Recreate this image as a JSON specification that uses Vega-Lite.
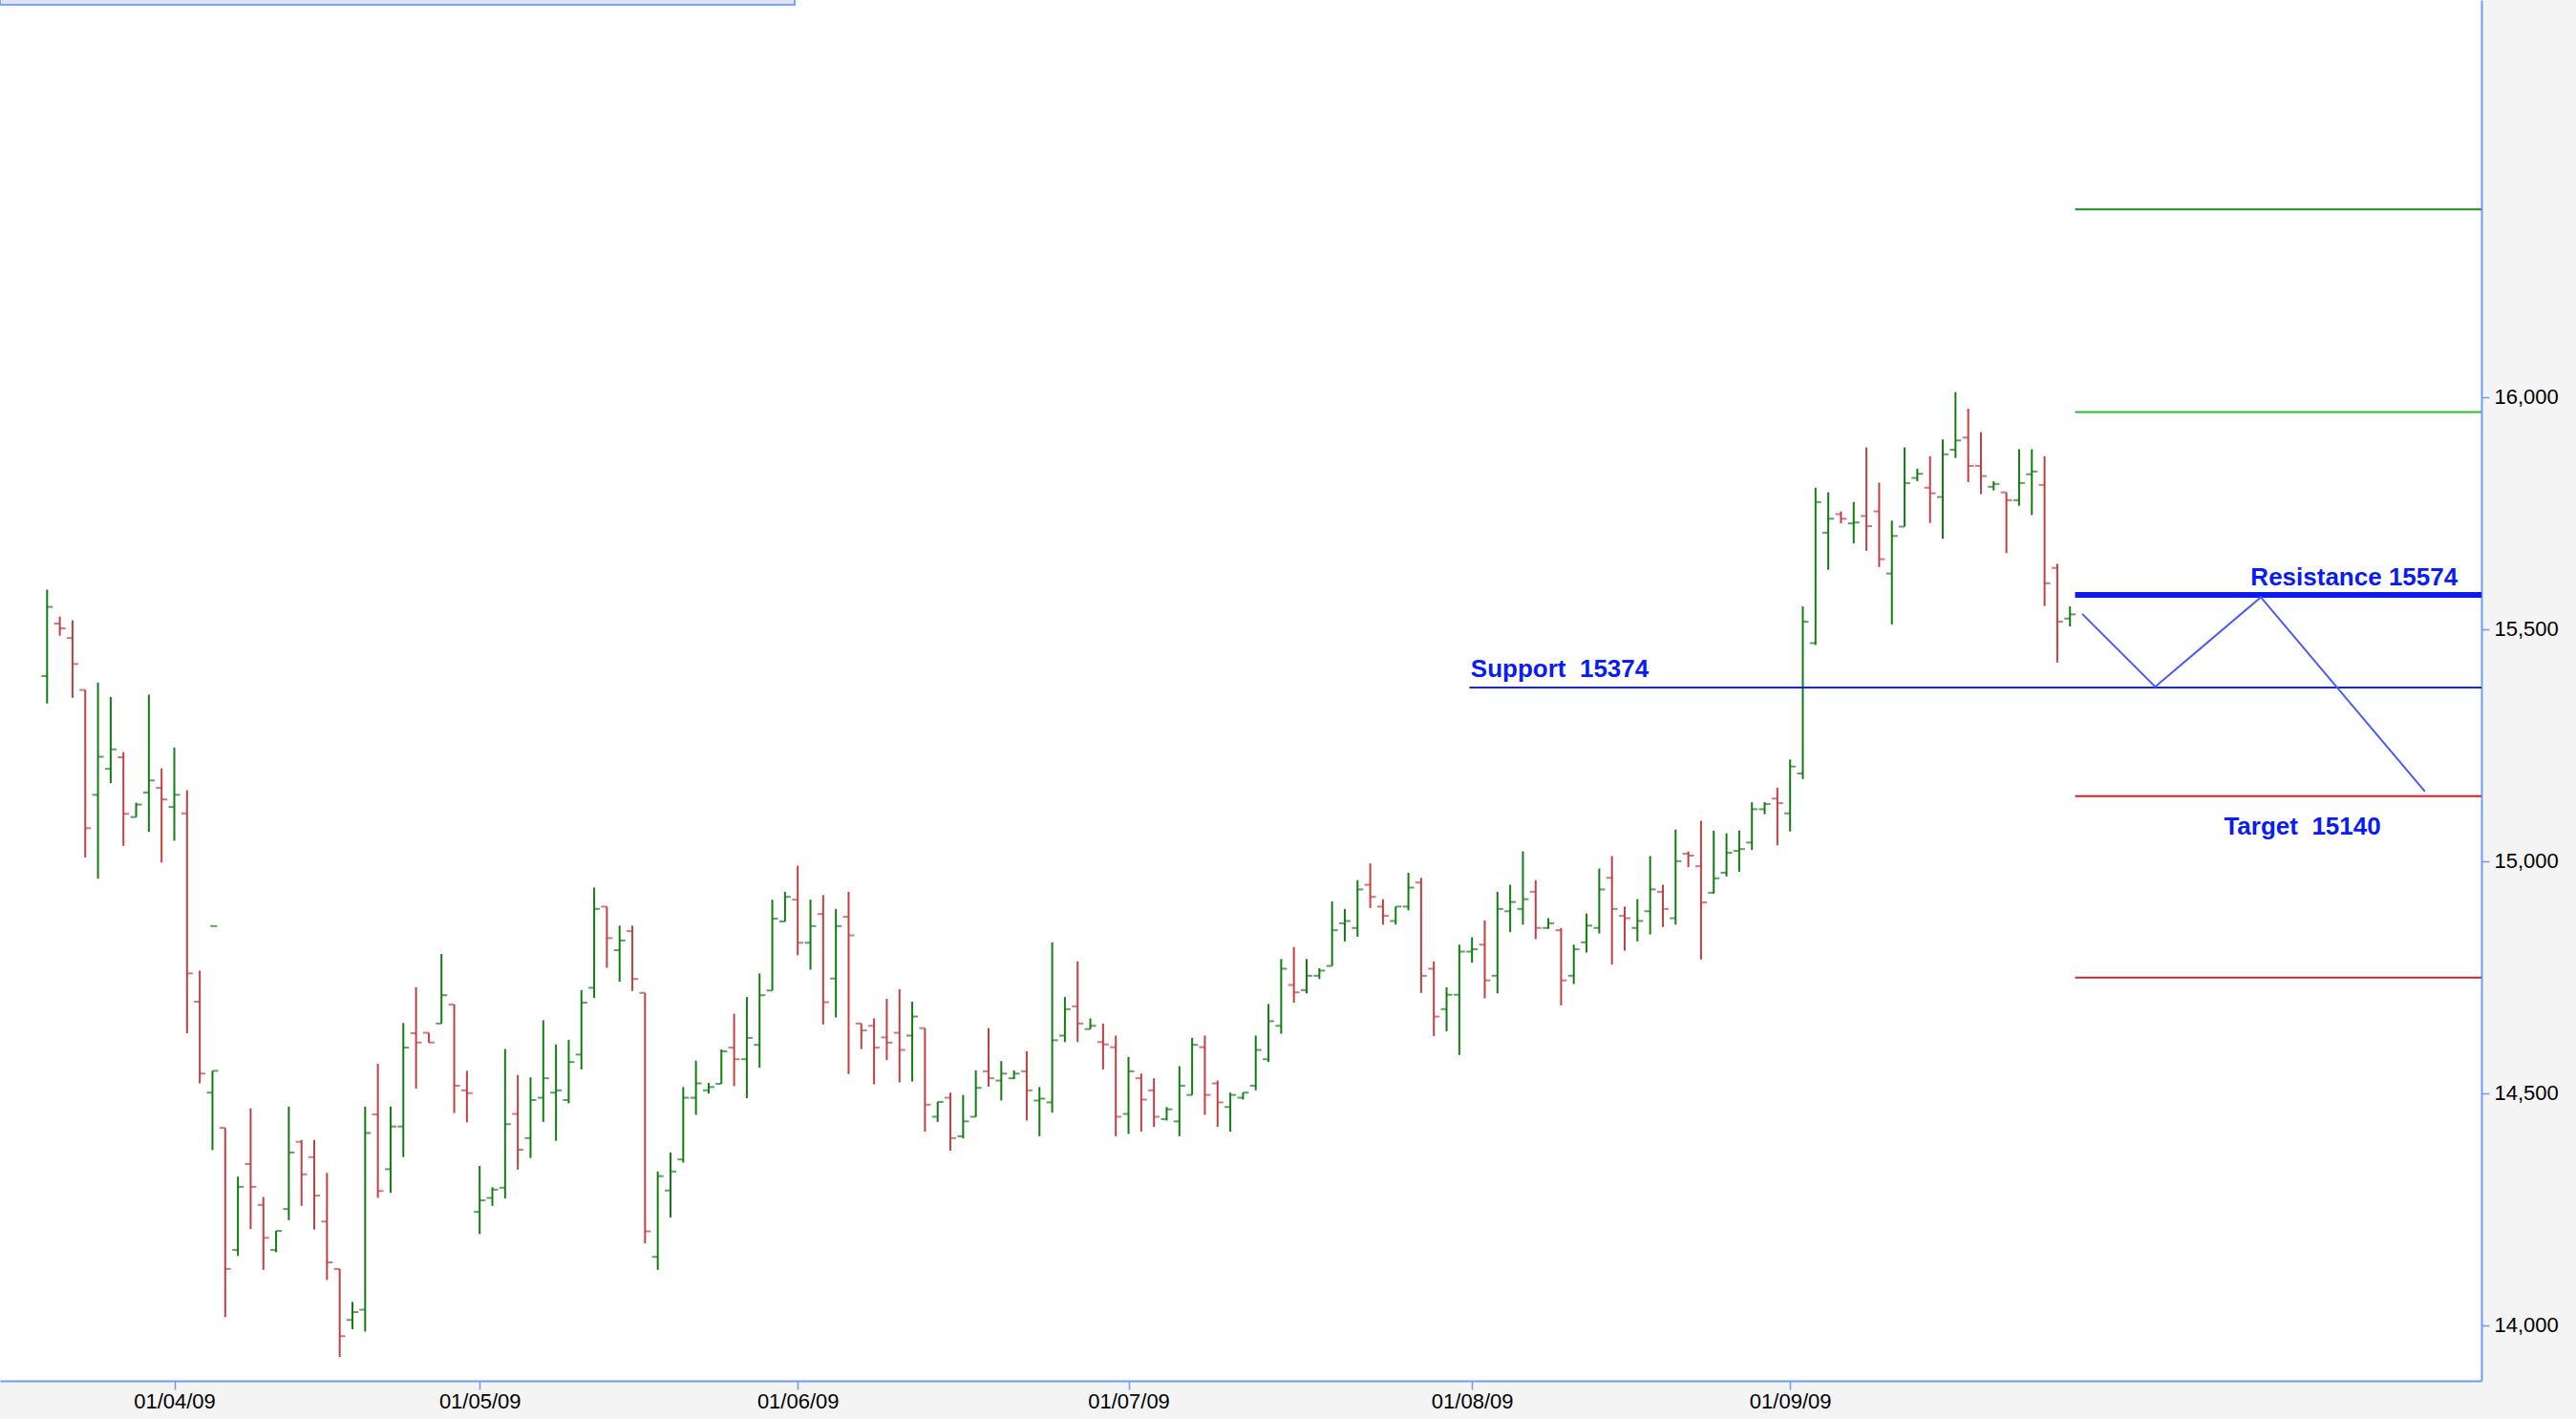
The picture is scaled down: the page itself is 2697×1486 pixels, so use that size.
{
  "$schema": "https://vega.github.io/schema/vega-lite/v6.json",
  "width": 2598,
  "height": 1446,
  "autosize": {"type": "none"},
  "padding": {"left": 0, "top": 0, "right": 99, "bottom": 40},
  "background": "#f4f4f4",
  "config": {
    "view": {"fill": "white", "stroke": null},
    "axis": {"grid": false, "labelFont": "Liberation Sans", "labelFontSize": 22, "labelColor": "#000000", "tickColor": "#6d9cf0", "domainColor": "#6d9cf0", "domainWidth": 2, "tickWidth": 1.5}
  },
  "datasets": {
    "bars": [
      {"i":0,"o":15399,"h":15585,"l":15340,"c":15548},{"i":1,"o":15512,"h":15527,"l":15486,"c":15502},{"i":2,"o":15481,"h":15519,"l":15352,"c":15425},{"i":3,"o":15369,"h":15369,"l":15008,"c":15071},{"i":4,"o":15143,"h":15385,"l":14962,"c":15225},{"i":5,"o":15199,"h":15354,"l":15168,"c":15241},{"i":6,"o":15224,"h":15235,"l":15033,"c":15102},{"i":7,"o":15095,"h":15126,"l":15095,"c":15122},{"i":8,"o":15148,"h":15359,"l":15063,"c":15174},{"i":9,"o":15158,"h":15200,"l":14997,"c":15133},
      {"i":10,"o":15117,"h":15245,"l":15044,"c":15143},{"i":11,"o":15103,"h":15153,"l":14629,"c":14758},{"i":12,"o":14697,"h":14764,"l":14521,"c":14542},{"i":13,"o":14501,"h":14548,"l":14377,"c":14548},{"i":14,"o":14425,"h":14425,"l":14017,"c":14121},{"i":15,"o":14162,"h":14320,"l":14149,"c":14298},{"i":16,"o":14347,"h":14467,"l":14207,"c":14298},{"i":17,"o":14259,"h":14276,"l":14119,"c":14188},{"i":18,"o":14162,"h":14203,"l":14157,"c":14203},{"i":19,"o":14250,"h":14471,"l":14226,"c":14372},
      {"i":20,"o":14395,"h":14399,"l":14257,"c":14325},{"i":21,"o":14362,"h":14399,"l":14206,"c":14279},{"i":22,"o":14223,"h":14328,"l":14097,"c":14135},{"i":23,"o":14121,"h":14121,"l":13931,"c":13976},{"i":24,"o":14011,"h":14050,"l":13991,"c":14028},{"i":25,"o":14033,"h":14471,"l":13986,"c":14414},{"i":26,"o":14454,"h":14563,"l":14274,"c":14289},{"i":27,"o":14336,"h":14471,"l":14285,"c":14428},{"i":28,"o":14428,"h":14651,"l":14362,"c":14598},{"i":29,"o":14629,"h":14728,"l":14510,"c":14609},
      {"i":30,"o":14630,"h":14630,"l":14609,"c":14609},{"i":31,"o":14650,"h":14800,"l":14650,"c":14711},{"i":32,"o":14691,"h":14691,"l":14457,"c":14516},{"i":33,"o":14506,"h":14548,"l":14437,"c":14500},{"i":34,"o":14244,"h":14343,"l":14196,"c":14269},{"i":35,"o":14274,"h":14297,"l":14257,"c":14292},{"i":36,"o":14296,"h":14595,"l":14273,"c":14433},{"i":37,"o":14455,"h":14539,"l":14335,"c":14378},{"i":38,"o":14403,"h":14534,"l":14360,"c":14485},{"i":39,"o":14490,"h":14657,"l":14438,"c":14532},
      {"i":40,"o":14501,"h":14605,"l":14397,"c":14506},{"i":41,"o":14485,"h":14615,"l":14478,"c":14567},{"i":42,"o":14583,"h":14722,"l":14551,"c":14695},{"i":43,"o":14727,"h":14943,"l":14705,"c":14897},{"i":44,"o":14902,"h":14902,"l":14770,"c":14834},{"i":45,"o":14808,"h":14861,"l":14740,"c":14829},{"i":46,"o":14849,"h":14861,"l":14720,"c":14746},{"i":47,"o":14716,"h":14716,"l":14176,"c":14202},{"i":48,"o":14147,"h":14331,"l":14119,"c":14321},{"i":49,"o":14290,"h":14372,"l":14232,"c":14331},
      {"i":50,"o":14357,"h":14513,"l":14350,"c":14490},{"i":51,"o":14490,"h":14570,"l":14453,"c":14521},{"i":52,"o":14506,"h":14522,"l":14499,"c":14513},{"i":53,"o":14520,"h":14594,"l":14520,"c":14590},{"i":54,"o":14598,"h":14671,"l":14515,"c":14573},{"i":55,"o":14573,"h":14707,"l":14489,"c":14619},{"i":56,"o":14604,"h":14758,"l":14555,"c":14711},{"i":57,"o":14721,"h":14917,"l":14721,"c":14876},{"i":58,"o":14870,"h":14934,"l":14870,"c":14923},{"i":59,"o":14917,"h":14990,"l":14797,"c":14824},
      {"i":60,"o":14824,"h":14917,"l":14766,"c":14860},{"i":61,"o":14886,"h":14927,"l":14648,"c":14696},{"i":62,"o":14747,"h":14897,"l":14663,"c":14860},{"i":63,"o":14880,"h":14934,"l":14541,"c":14840},{"i":64,"o":14650,"h":14650,"l":14595,"c":14635},{"i":65,"o":14645,"h":14661,"l":14519,"c":14598},{"i":66,"o":14620,"h":14703,"l":14571,"c":14609},{"i":67,"o":14630,"h":14724,"l":14523,"c":14593},{"i":68,"o":14624,"h":14697,"l":14525,"c":14665},{"i":69,"o":14640,"h":14640,"l":14417,"c":14475},
      {"i":70,"o":14449,"h":14481,"l":14438,"c":14481},{"i":71,"o":14490,"h":14501,"l":14376,"c":14403},{"i":72,"o":14407,"h":14496,"l":14402,"c":14439},{"i":73,"o":14449,"h":14549,"l":14449,"c":14511},{"i":74,"o":14547,"h":14640,"l":14514,"c":14532},{"i":75,"o":14527,"h":14569,"l":14484,"c":14542},{"i":76,"o":14532,"h":14549,"l":14530,"c":14542},{"i":77,"o":14547,"h":14590,"l":14441,"c":14506},{"i":78,"o":14484,"h":14513,"l":14407,"c":14488},{"i":79,"o":14480,"h":14825,"l":14458,"c":14614},
      {"i":80,"o":14624,"h":14707,"l":14610,"c":14681},{"i":81,"o":14687,"h":14784,"l":14610,"c":14650},{"i":82,"o":14638,"h":14661,"l":14638,"c":14645},{"i":83,"o":14610,"h":14650,"l":14551,"c":14605},{"i":84,"o":14599,"h":14624,"l":14407,"c":14449},{"i":85,"o":14455,"h":14578,"l":14412,"c":14547},{"i":86,"o":14532,"h":14542,"l":14417,"c":14486},{"i":87,"o":14506,"h":14532,"l":14427,"c":14449},{"i":88,"o":14444,"h":14470,"l":14441,"c":14465},{"i":89,"o":14439,"h":14558,"l":14407,"c":14516},
      {"i":90,"o":14496,"h":14619,"l":14496,"c":14604},{"i":91,"o":14599,"h":14624,"l":14453,"c":14496},{"i":92,"o":14521,"h":14527,"l":14427,"c":14480},{"i":93,"o":14470,"h":14501,"l":14417,"c":14496},{"i":94,"o":14490,"h":14501,"l":14486,"c":14501},{"i":95,"o":14516,"h":14624,"l":14506,"c":14593},{"i":96,"o":14573,"h":14692,"l":14567,"c":14655},{"i":97,"o":14645,"h":14789,"l":14628,"c":14768},{"i":98,"o":14733,"h":14815,"l":14695,"c":14717},{"i":99,"o":14722,"h":14789,"l":14715,"c":14753},
      {"i":100,"o":14753,"h":14769,"l":14746,"c":14764},{"i":101,"o":14774,"h":14913,"l":14774,"c":14851},{"i":102,"o":14866,"h":14897,"l":14827,"c":14871},{"i":103,"o":14856,"h":14959,"l":14837,"c":14939},{"i":104,"o":14949,"h":14995,"l":14899,"c":14923},{"i":105,"o":14902,"h":14918,"l":14863,"c":14882},{"i":106,"o":14871,"h":14902,"l":14863,"c":14902},{"i":107,"o":14902,"h":14975,"l":14894,"c":14943},{"i":108,"o":14954,"h":14964,"l":14716,"c":14753},{"i":109,"o":14768,"h":14784,"l":14623,"c":14665},
      {"i":110,"o":14681,"h":14728,"l":14633,"c":14712},{"i":111,"o":14712,"h":14820,"l":14582,"c":14805},{"i":112,"o":14805,"h":14836,"l":14781,"c":14810},{"i":113,"o":14820,"h":14872,"l":14704,"c":14743},{"i":114,"o":14753,"h":14934,"l":14715,"c":14897},{"i":115,"o":14892,"h":14949,"l":14847,"c":14912},{"i":116,"o":14897,"h":15021,"l":14863,"c":14918},{"i":117,"o":14934,"h":14959,"l":14832,"c":14856},{"i":118,"o":14856,"h":14877,"l":14854,"c":14866},{"i":119,"o":14851,"h":14856,"l":14689,"c":14743},
      {"i":120,"o":14753,"h":14820,"l":14735,"c":14810},{"i":121,"o":14825,"h":14887,"l":14803,"c":14861},{"i":122,"o":14856,"h":14984,"l":14844,"c":14939},{"i":123,"o":14964,"h":15011,"l":14777,"c":14897},{"i":124,"o":14882,"h":14902,"l":14807,"c":14877},{"i":125,"o":14856,"h":14918,"l":14827,"c":14871},{"i":126,"o":14892,"h":15011,"l":14842,"c":14939},{"i":127,"o":14934,"h":14949,"l":14858,"c":14897},{"i":128,"o":14877,"h":15068,"l":14863,"c":15000},{"i":129,"o":15016,"h":15021,"l":14987,"c":15012},
      {"i":130,"o":14989,"h":15087,"l":14788,"c":14911},{"i":131,"o":14932,"h":15066,"l":14930,"c":14963},{"i":132,"o":14975,"h":15060,"l":14967,"c":15018},{"i":133,"o":15022,"h":15066,"l":14977,"c":15026},{"i":134,"o":15040,"h":15127,"l":15024,"c":15112},{"i":135,"o":15112,"h":15127,"l":15101,"c":15123},{"i":136,"o":15135,"h":15158,"l":15034,"c":15125},{"i":137,"o":15103,"h":15219,"l":15064,"c":15204},{"i":138,"o":15189,"h":15549,"l":15177,"c":15516},{"i":139,"o":15470,"h":15805,"l":15466,"c":15774},
      {"i":140,"o":15708,"h":15795,"l":15628,"c":15738},{"i":141,"o":15748,"h":15754,"l":15728,"c":15738},{"i":142,"o":15728,"h":15774,"l":15685,"c":15730},{"i":143,"o":15744,"h":15892,"l":15669,"c":15722},{"i":144,"o":15754,"h":15816,"l":15634,"c":15651},{"i":145,"o":15620,"h":15734,"l":15510,"c":15701},{"i":146,"o":15721,"h":15892,"l":15721,"c":15815},{"i":147,"o":15826,"h":15846,"l":15819,"c":15835},{"i":148,"o":15805,"h":15873,"l":15729,"c":15793},{"i":149,"o":15785,"h":15909,"l":15695,"c":15877},
      {"i":150,"o":15887,"h":16011,"l":15869,"c":15907},{"i":151,"o":15913,"h":15975,"l":15817,"c":15852},{"i":152,"o":15852,"h":15925,"l":15791,"c":15830},{"i":153,"o":15807,"h":15819,"l":15799,"c":15813},{"i":154,"o":15795,"h":15795,"l":15664,"c":15778},{"i":155,"o":15778,"h":15888,"l":15766,"c":15815},{"i":156,"o":15834,"h":15888,"l":15746,"c":15840},{"i":157,"o":15811,"h":15873,"l":15550,"c":15599},{"i":158,"o":15632,"h":15641,"l":15428,"c":15516},{"i":159,"o":15523,"h":15549,"l":15506,"c":15532}
    ],
    "levels": [
      {"name": "Upper target 2", "value": 16405, "start": 159.4, "end": 191.34},
      {"name": "Upper target 1", "value": 15968, "start": 159.4, "end": 191.34},
      {"name": "Resistance", "value": 15574, "start": 159.4, "end": 191.34},
      {"name": "Support", "value": 15374, "start": 111.8, "end": 191.34},
      {"name": "Target", "value": 15140, "start": 159.4, "end": 191.34},
      {"name": "Lower target", "value": 14749, "start": 159.4, "end": 191.34}
    ],
    "path": [
      {"seq": 1, "x": 159.96, "y": 15533},
      {"seq": 2, "x": 165.7, "y": 15376},
      {"seq": 3, "x": 174.0, "y": 15569},
      {"seq": 4, "x": 186.9, "y": 15150}
    ],
    "notes": [
      {"label": "Resistance 15574", "x": 173.2, "y": 15594},
      {"label": "Support\u00a0 15374", "x": 111.9, "y": 15397},
      {"label": "Target\u00a0 15140", "x": 171.1, "y": 15058}
    ],
    "box": [{"x1": -3.7, "x2": 58.76, "y1": 16846, "y2": 16900}],
    "dash": [{"i": 13.1, "v": 14860}]
  },
  "layer": [
    {
      "data": {"name": "bars"},
      "mark": {"type": "rule", "strokeWidth": 2},
      "encoding": {
        "x": {"field": "i", "type": "quantitative", "scale": {"domain": [-3.701, 191.34], "nice": false, "zero": false},
              "axis": {"title": null, "values": [10, 34, 59, 85, 112, 137], "tickSize": 9, "labelPadding": 2, "labelFlush": false, "labelOverlap": false,
                       "labelExpr": "datum.value == 10 ? '01/04/09' : datum.value == 34 ? '01/05/09' : datum.value == 59 ? '01/06/09' : datum.value == 85 ? '01/07/09' : datum.value == 112 ? '01/08/09' : '01/09/09'"}},
        "y": {"field": "l", "type": "quantitative", "scale": {"domain": [13879.8, 16856.3], "nice": false, "zero": false},
              "axis": {"title": null, "orient": "right", "values": [14000, 14500, 15000, 15500, 16000], "format": ",d", "tickSize": 8, "labelPadding": 5}},
        "y2": {"field": "h"},
        "color": {"condition": {"test": "datum.c >= datum.o", "value": "#147c14"}, "value": "#c23f43"}
      }
    },
    {
      "data": {"name": "bars"},
      "mark": {"type": "tick", "orient": "horizontal", "size": 6, "thickness": 2, "xOffset": -3},
      "encoding": {
        "x": {"field": "i", "type": "quantitative", "title": null},
        "y": {"field": "o", "type": "quantitative", "title": null},
        "color": {"condition": {"test": "datum.c >= datum.o", "value": "#147c14"}, "value": "#c23f43"}
      }
    },
    {
      "data": {"name": "bars"},
      "mark": {"type": "tick", "orient": "horizontal", "size": 6, "thickness": 2, "xOffset": 3},
      "encoding": {
        "x": {"field": "i", "type": "quantitative", "title": null},
        "y": {"field": "c", "type": "quantitative", "title": null},
        "color": {"condition": {"test": "datum.c >= datum.o", "value": "#147c14"}, "value": "#c23f43"}
      }
    },
    {
      "data": {"name": "dash"},
      "mark": {"type": "tick", "orient": "horizontal", "size": 7, "thickness": 2, "color": "#147c14"},
      "encoding": {
        "x": {"field": "i", "type": "quantitative", "title": null},
        "y": {"field": "v", "type": "quantitative", "title": null}
      }
    },
    {
      "data": {"name": "box"},
      "mark": {"type": "rect", "fill": "#dfe2f6", "stroke": "#7ea6ef", "strokeWidth": 2, "clip": true},
      "encoding": {
        "x": {"field": "x1", "type": "quantitative", "title": null},
        "x2": {"field": "x2"},
        "y": {"field": "y1", "type": "quantitative", "title": null},
        "y2": {"field": "y2"}
      }
    },
    {
      "data": {"name": "levels"},
      "mark": {"type": "rule"},
      "encoding": {
        "x": {"field": "start", "type": "quantitative", "title": null},
        "x2": {"field": "end"},
        "y": {"field": "value", "type": "quantitative", "title": null},
        "color": {"field": "name", "type": "nominal", "legend": null,
                  "scale": {"domain": ["Upper target 2", "Upper target 1", "Resistance", "Support", "Target", "Lower target"],
                            "range": ["#1b8a1b", "#2dbb2d", "#0c1cf0", "#1024f5", "#f01818", "#c42a2a"]}},
        "strokeWidth": {"condition": {"test": "datum.name === 'Resistance'", "value": 6}, "value": 2}
      }
    },
    {
      "data": {"name": "path"},
      "mark": {"type": "line", "color": "#4a5cf2", "strokeWidth": 2},
      "encoding": {
        "x": {"field": "x", "type": "quantitative", "title": null},
        "y": {"field": "y", "type": "quantitative", "title": null},
        "order": {"field": "seq"}
      }
    },
    {
      "data": {"name": "notes"},
      "mark": {"type": "text", "align": "left", "baseline": "alphabetic", "font": "Liberation Sans", "fontWeight": "bold", "fontSize": 26, "color": "#0a1cf5"},
      "encoding": {
        "x": {"field": "x", "type": "quantitative", "title": null},
        "y": {"field": "y", "type": "quantitative", "title": null},
        "text": {"field": "label"}
      }
    }
  ]
}
